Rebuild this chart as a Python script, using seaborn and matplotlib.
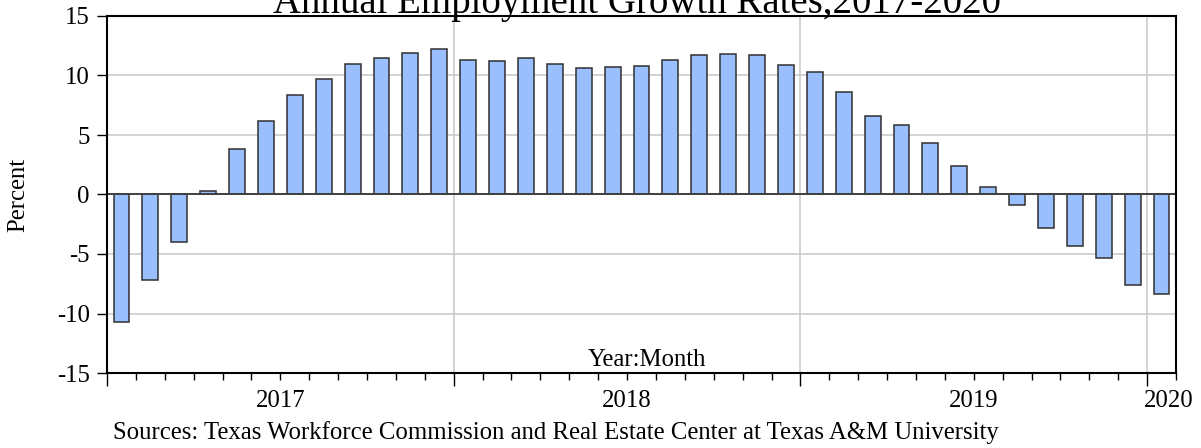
import matplotlib
matplotlib.use('Agg')
import matplotlib.pyplot as plt
import matplotlib.transforms as mtransforms
import pandas as pd
import seaborn as sns

# Dados: crescimento anual do emprego, jan/2017 a jan/2020
anos = ['2017'] * 12 + ['2018'] * 12 + ['2019'] * 12 + ['2020']
meses = [f'{m:02d}' for m in range(1, 13)] * 3 + ['01']
crescimento = [-10.7, -7.2, -4.0, 0.3, 3.8, 6.2, 8.4, 9.7, 11.0, 11.5, 11.9, 12.2,
               11.3, 11.2, 11.5, 11.0, 10.6, 10.7, 10.8, 11.3, 11.7, 11.8, 11.7, 10.9,
               10.3, 8.6, 6.6, 5.8, 4.3, 2.4, 0.6, -0.9, -2.8, -4.3, -5.3, -7.6, -8.4]
rotulos_y = [-15, -10, -5, 0, 5, 10, 15]

df = pd.DataFrame({'periodo': [f'{a}:{m}' for a, m in zip(anos, meses)],
                   'ano': anos,
                   'crescimento': crescimento})

sns.set_style('ticks')
plt.rcParams['font.family'] = ['Liberation Serif', 'DejaVu Serif']
plt.rcParams['axes.unicode_minus'] = False
plt.rcParams['text.color'] = 'black'
plt.rcParams['xtick.color'] = 'black'
plt.rcParams['ytick.color'] = 'black'

fs = 17.8

fig = plt.figure(figsize=(12.01, 4.48), dpi=100)
ax = fig.add_axes([107 / 1201, 1 - 373 / 448, (1176 - 107) / 1201, (373 - 16) / 448])

sns.barplot(data=df, x='periodo', y='crescimento', color='#99BFFF', saturation=1,
            edgecolor='#303030', linewidth=1.1, width=0.55, ax=ax, zorder=3)

n = len(df)
ax.set_xlim(-0.5, n - 0.5)
ax.set_ylim(-15, 15)

# Divisões entre os anos
limites = [i - 0.5 for i in range(1, n) if anos[i] != anos[i - 1]]
ax.set_xticks([-0.5] + limites)
ax.set_xticklabels([])
ax.set_xticks([i + 0.5 for i in range(n)], minor=True)
ax.tick_params(axis='x', which='major', bottom=True, length=9.5, width=1, color='black', direction='out')
ax.tick_params(axis='x', which='minor', bottom=True, length=5, width=1, color='black', direction='out')

ax.set_yticks(rotulos_y)
ax.set_yticklabels([str(v) for v in rotulos_y], fontsize=fs, color='black')
ax.tick_params(axis='y', left=True, length=7.5, width=1, color='black', direction='out', pad=5)

ax.grid(True, which='major', color='#C8C8C8', linewidth=1.1)
ax.set_axisbelow(True)
ax.axhline(0, color='#404040', linewidth=1.4, zorder=4)

for lado in ['top', 'bottom', 'left', 'right']:
    ax.spines[lado].set_visible(True)
    ax.spines[lado].set_color('black')
    ax.spines[lado].set_linewidth(1.5)
    ax.spines[lado].set_zorder(5)

# Rótulos dos anos sob cada bloco de meses
trans = mtransforms.blended_transform_factory(ax.transData, ax.transAxes)
for ano in dict.fromkeys(anos):
    posicoes = [i for i, a in enumerate(anos) if a == ano]
    x = sum(posicoes) / len(posicoes)
    if len(posicoes) == 1:
        x += 0.25
    ax.text(x, -0.078, ano, transform=trans, ha='center', va='center', fontsize=fs)

ax.set_xlabel('')
ax.set_ylabel('')
ax.text(0.505, 0.005, 'Year:Month', transform=ax.transAxes, ha='center', va='bottom', fontsize=fs)

fig.text(18 / 1201, 1 - 194.5 / 448, 'Percent', rotation=90, ha='center', va='center', fontsize=fs)
fig.text(637 / 1201, 1 - 13.3 / 448, 'Annual Employment Growth Rates,2017-2020',
         ha='center', va='baseline', fontsize=28)
fig.text(113 / 1201, 1 - 433 / 448,
         'Sources: Texas Workforce Commission and Real Estate Center at Texas A&M University',
         ha='left', va='center', fontsize=fs)

fig.savefig('out.png', dpi=100)
